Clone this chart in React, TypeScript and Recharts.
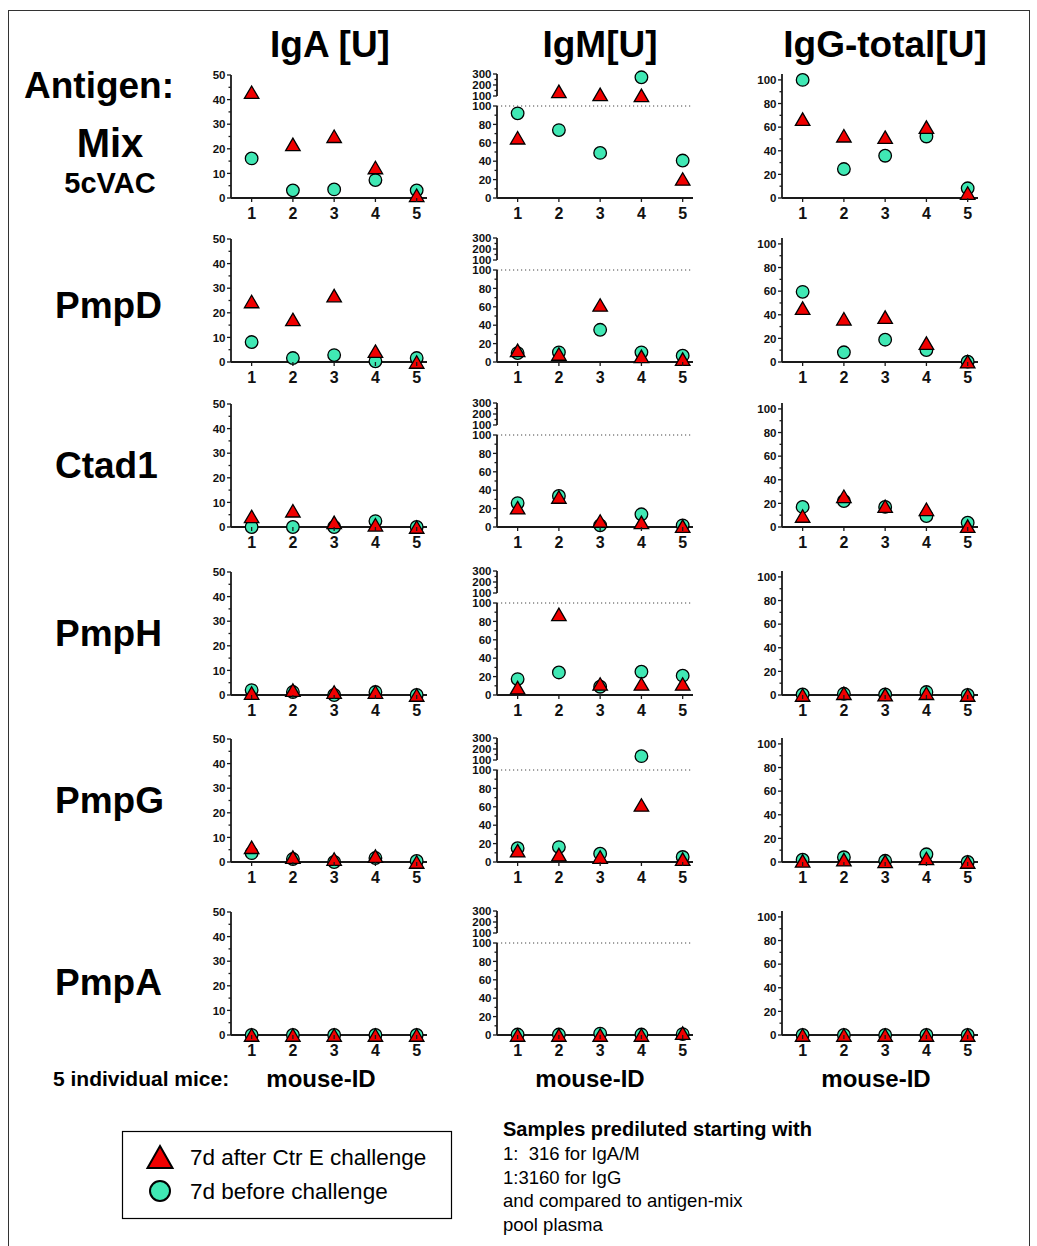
import React from 'react';
import { ScatterChart, Scatter, XAxis, YAxis, ReferenceLine } from 'recharts';

const FONT = '"Liberation Sans", Arial, Helvetica, sans-serif';
const RED = '#f00000';
const TEAL = '#40e8b4';
const AXIS = '#1a1a1a';

// ---------- data ----------
const MICE = [1, 2, 3, 4, 5];
const ANTIGENS = ['Mix', 'PmpD', 'Ctad1', 'PmpH', 'PmpG', 'PmpA'];
const ISOTYPES = ['IgA [U]', 'IgM[U]', 'IgG-total[U]'];
const LEGEND_LABELS = ['7d after Ctr E challenge', '7d before challenge'];
const NOTE_TITLE = 'Samples prediluted starting with';
const NOTE_LINES = ['1:  316 for IgA/M', '1:3160 for IgG', 'and compared to antigen-mix', 'pool plasma'];

// rows: Mix, PmpD, Ctad1, PmpH, PmpG, PmpA ; values for mouse 1..5
const IGA_AFTER = [
  [43, 21.8, 25.1, 12.4, 1.1],
  [24.6, 17.3, 27, 4.4, 0],
  [4.3, 6.6, 1.9, 0.9, 0],
  [0.8, 2, 1.2, 1.2, 0],
  [6, 2, 1.2, 2.4, 0],
  [0, 0, 0, 0, 0],
];
const IGA_BEFORE = [
  [16.1, 3.1, 3.5, 7.3, 3.1],
  [8.1, 1.6, 2.8, 0.3, 1.6],
  [0, 0, 0, 2.4, 0],
  [2, 1.2, 0, 1.2, 0],
  [3.6, 1.2, 0, 1.6, 0.4],
  [0, 0, 0, 0, 0],
];
const IGM_AFTER = [
  [65.5, 142, 115, 106, 20.7],
  [12.6, 8.7, 62, 6.1, 3.2],
  [21, 32.6, 6.5, 5, 1],
  [8, 87.7, 12, 12, 12],
  [12.3, 8, 5.4, 62, 3.2],
  [0, 0, 0, 0, 2],
];
const IGM_BEFORE = [
  [92, 73.8, 49, 270, 40.7],
  [9.7, 10.5, 35, 10.5, 6.9],
  [26, 33.7, 1.8, 13.8, 1.8],
  [17.3, 24.5, 9, 25.3, 21],
  [15, 16.2, 9, 135, 5.4],
  [0.5, 0.5, 1.5, 0.5, 1],
];
const IGG_AFTER = [
  [66.8, 52.7, 51.5, 60, 4.2],
  [45.6, 36.6, 38, 16, 0.3],
  [9.3, 26, 17.6, 15, 0.8],
  [0, 1.5, 0.3, 1.5, 0],
  [1, 2, 0.5, 3, 0],
  [0, 0, 0, 0, 0],
];
const IGG_BEFORE = [
  [100, 24.5, 35.8, 52.1, 8.2],
  [59.4, 8.2, 18.9, 10.1, 0.3],
  [17, 22, 17, 9.3, 3.7],
  [0.5, 1, 0.5, 2.5, 0],
  [2, 4, 1, 6.5, 0],
  [0, 0, 0, 0, 0],
];

const IGA_TICKS = [0, 10, 20, 30, 40, 50];
const IGA_MINOR = [5, 15, 25, 35, 45];
const IGM_LOW_TICKS = [0, 20, 40, 60, 80, 100];
const IGM_LOW_MINOR = [10, 30, 50, 70, 90];
const IGM_HIGH_TICKS = [100, 200, 300];
const IGM_HIGH_MINOR = [150, 250];
const IGG_TICKS = [0, 20, 40, 60, 80, 100];
const IGG_MINOR = [10, 30, 50, 70, 90];

// ---------- layout ----------
const COL_LEFT = [231, 497, 782];
const ROW_BOTTOM = [198, 362, 527, 695, 862, 1035];
const PLOT_W = 196;
const X_DOMAIN = [0.5, 5.25];
const HEADER_X = [330, 600, 885];
const MOUSE_ID_X = [321, 590, 876];
const ROW_LABEL_Y = [0, 318, 478, 646, 813, 995];

const Triangle = (p: any) => {
  const { cx, cy } = p;
  if (cx == null || cy == null) return null;
  const w = 14.5, h = 12.5;
  return (
    <path
      d={`M${cx},${cy - h / 2} L${cx + w / 2},${cy + h / 2} L${cx - w / 2},${cy + h / 2} Z`}
      fill={RED}
      stroke="#000"
      strokeWidth={1.3}
    />
  );
};

const Circle = (p: any) => {
  const { cx, cy } = p;
  if (cx == null || cy == null) return null;
  return <circle cx={cx} cy={cy} r={6.3} fill={TEAL} stroke="#000" strokeWidth={1.3} />;
};

const makeYTick = (major: number[]) => (props: any) => {
  const { x, y, payload } = props;
  const isMajor = major.includes(payload.value);
  return (
    <g>
      <line x1={x - (isMajor ? 4 : 2.5)} x2={x} y1={y} y2={y} stroke={AXIS} strokeWidth={1.3} />
      {isMajor && (
        <text x={x - 5.5} y={y} dy="0.36em" textAnchor="end" fontSize={11.5} fontWeight="bold" fill="#111" fontFamily={FONT}>
          {payload.value}
        </text>
      )}
    </g>
  );
};

const XTick = (props: any) => {
  const { x, y, payload } = props;
  return (
    <g>
      <line x1={x} x2={x} y1={y} y2={y + 4} stroke={AXIS} strokeWidth={1.3} />
      <text x={x} y={y + 21} textAnchor="middle" fontSize={16} fontWeight="bold" fill="#111" fontFamily={FONT}>
        {payload.value}
      </text>
    </g>
  );
};

type PanelProps = {
  left: number;
  bottom: number;
  height: number;
  domain: number[];
  ticks: number[];
  minor: number[];
  after: number[];
  before: number[];
  showX?: boolean;
  refY?: number;
  keep: (v: number) => boolean;
};

function Panel({ left, bottom, height, domain, ticks, minor, after, before, showX = true, refY, keep }: PanelProps) {
  const YW = 40, MT = 8, MR = 10;
  const XH = showX ? 30 : 0;
  const MB = showX ? 0 : 8;
  const W = YW + PLOT_W + MR;
  const H = MT + height + XH + MB;
  const top = bottom - height - MT;
  const allTicks = [...ticks, ...minor].sort((a, b) => a - b);
  const afterData = MICE.map((m, i) => ({ x: m, y: after[i] })).filter((d) => keep(d.y));
  const beforeData = MICE.map((m, i) => ({ x: m, y: before[i] })).filter((d) => keep(d.y));
  const empty = afterData.length === 0 && beforeData.length === 0;
  return (
    <div style={{ position: 'absolute', left: left - YW, top, width: W, height: H }}>
      <ScatterChart width={W} height={H} margin={{ top: MT, right: MR, bottom: MB, left: 0 }}>
        <XAxis
          type="number"
          dataKey="x"
          domain={X_DOMAIN}
          ticks={MICE}
          interval={0}
          hide={!showX}
          height={XH || 30}
          tickSize={0}
          tickMargin={0}
          tickLine={false}
          tick={<XTick />}
          allowDataOverflow={empty}
          axisLine={{ stroke: AXIS, strokeWidth: 1.8 }}
        />
        <YAxis
          type="number"
          dataKey="y"
          domain={domain}
          ticks={allTicks}
          interval={0}
          width={YW}
          tickSize={0}
          tickMargin={0}
          tickLine={false}
          tick={makeYTick(ticks)}
          allowDataOverflow={empty}
          axisLine={{ stroke: AXIS, strokeWidth: 1.8 }}
        />
        {refY !== undefined && <ReferenceLine y={refY} stroke="#444" strokeWidth={1} strokeDasharray="1.2 2.8" />}
        <Scatter data={beforeData} shape={Circle} isAnimationActive={false} />
        <Scatter data={afterData} shape={Triangle} isAnimationActive={false} />
      </ScatterChart>
    </div>
  );
}

export default function App() {
  const all = () => true;
  return (
    <div style={{ position: 'absolute', left: 0, top: 0, width: 1037, height: 1246, overflow: 'hidden', background: '#fff', fontFamily: FONT }}>
      <svg width={1037} height={1246} style={{ position: 'absolute', left: 0, top: 0 }}>
        <rect x={8.5} y={10.5} width={1021} height={1260} fill="none" stroke="#333" strokeWidth={1} />
        {ISOTYPES.map((t, i) => (
          <text key={t} x={HEADER_X[i]} y={57} textAnchor="middle" fontSize={37} fontWeight="bold" fill="#000" fontFamily={FONT}>
            {t}
          </text>
        ))}
        <text x={24} y={98} fontSize={37} fontWeight="bold" fontFamily={FONT} fill="#000">Antigen:</text>
        <text x={110} y={157} textAnchor="middle" fontSize={40} fontWeight="bold" fontFamily={FONT} fill="#000">{ANTIGENS[0]}</text>
        <text x={110} y={193} textAnchor="middle" fontSize={29} fontWeight="bold" fontFamily={FONT} fill="#000">5cVAC</text>
        {ANTIGENS.slice(1).map((a, i) => (
          <text key={a} x={55} y={ROW_LABEL_Y[i + 1]} fontSize={37} fontWeight="bold" fontFamily={FONT} fill="#000">
            {a}
          </text>
        ))}
        <text x={53} y={1086} fontSize={21} fontWeight="bold" fontFamily={FONT} fill="#000">5 individual mice:</text>
        {MOUSE_ID_X.map((x, i) => (
          <text key={i} x={x} y={1087} textAnchor="middle" fontSize={24} fontWeight="bold" fontFamily={FONT} fill="#000">
            mouse-ID
          </text>
        ))}
        {/* legend */}
        <rect x={122.5} y={1131.5} width={329} height={87} fill="#fff" stroke="#000" strokeWidth={1.2} />
        <path d="M160,1146 L172.5,1168 L147.5,1168 Z" fill={RED} stroke="#000" strokeWidth={2} />
        <circle cx={160} cy={1191} r={10} fill={TEAL} stroke="#000" strokeWidth={2} />
        <text x={190} y={1165} fontSize={22.5} fontFamily={FONT} fill="#000">{LEGEND_LABELS[0]}</text>
        <text x={190} y={1199} fontSize={22.5} fontFamily={FONT} fill="#000">{LEGEND_LABELS[1]}</text>
        {/* notes */}
        <text x={503} y={1136} fontSize={20} fontWeight="bold" fontFamily={FONT} fill="#000">{NOTE_TITLE}</text>
        {NOTE_LINES.map((l, i) => (
          <text key={i} x={503} y={1160 + i * 23.7} fontSize={18.5} fontFamily={FONT} fill="#000" style={{ whiteSpace: 'pre' }}>
            {l}
          </text>
        ))}
      </svg>
      {ROW_BOTTOM.map((b, r) => (
        <React.Fragment key={r}>
          <Panel left={COL_LEFT[0]} bottom={b} height={123} domain={[0, 50]} ticks={IGA_TICKS} minor={IGA_MINOR}
            after={IGA_AFTER[r]} before={IGA_BEFORE[r]} keep={all} />
          <Panel left={COL_LEFT[1]} bottom={b - 102} height={22} domain={[100, 300]} ticks={IGM_HIGH_TICKS} minor={IGM_HIGH_MINOR}
            after={IGM_AFTER[r]} before={IGM_BEFORE[r]} showX={false} keep={(v) => v > 100} />
          <Panel left={COL_LEFT[1]} bottom={b} height={92} domain={[0, 100]} ticks={IGM_LOW_TICKS} minor={IGM_LOW_MINOR}
            after={IGM_AFTER[r]} before={IGM_BEFORE[r]} refY={100} keep={(v) => v <= 100} />
          <Panel left={COL_LEFT[2]} bottom={b} height={124} domain={[0, 105]} ticks={IGG_TICKS} minor={IGG_MINOR}
            after={IGG_AFTER[r]} before={IGG_BEFORE[r]} keep={all} />
        </React.Fragment>
      ))}
    </div>
  );
}
